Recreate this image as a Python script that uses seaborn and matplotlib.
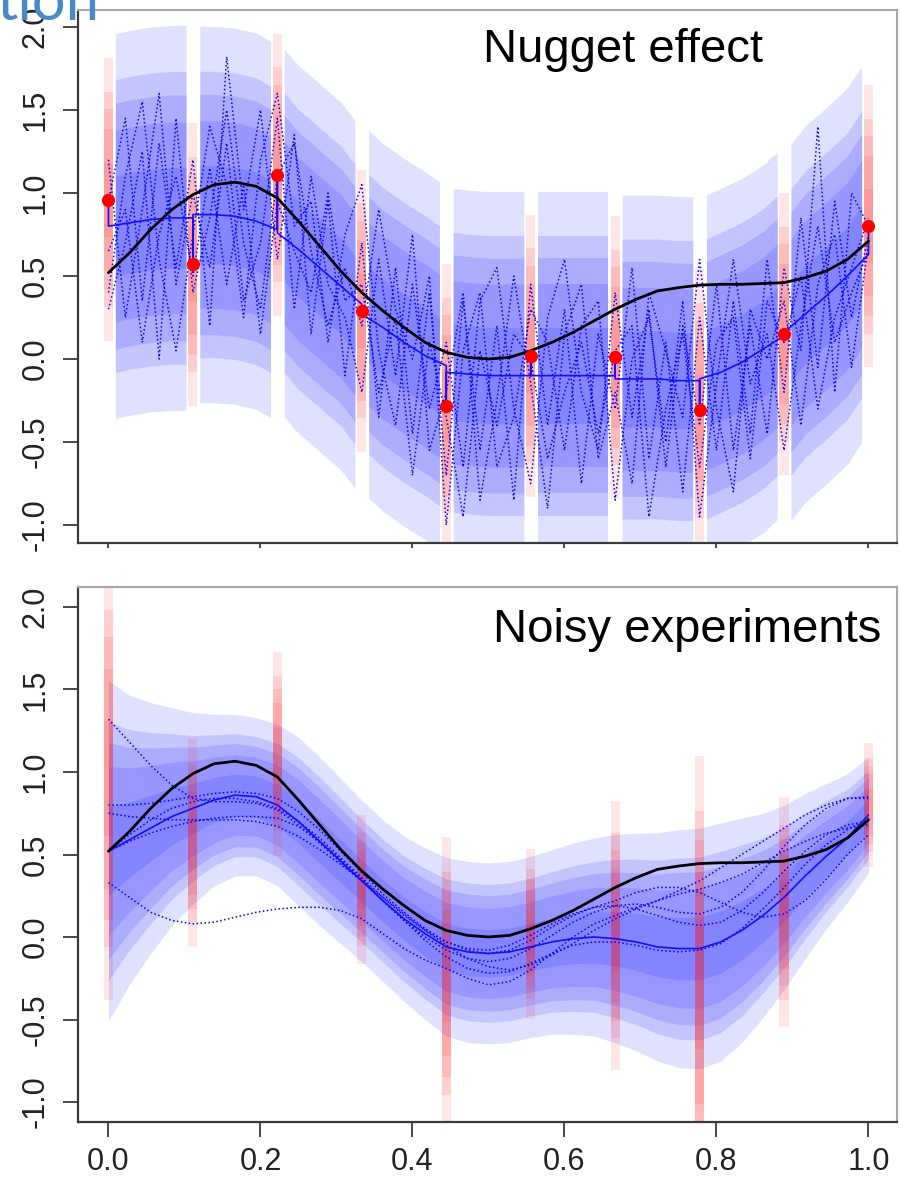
import numpy as np
import matplotlib
matplotlib.use("Agg")
import matplotlib.pyplot as plt
import seaborn as sns

# ---------------------------------------------------------------------------
# Data
# ---------------------------------------------------------------------------
# design of experiments and observed responses
x_design = [0.0, 1 / 9, 2 / 9, 3 / 9, 4 / 9, 5 / 9, 6 / 9, 7 / 9, 8 / 9, 1.0]
y_obs = [0.96, 0.57, 1.11, 0.29, -0.28, 0.02, 0.01, -0.31, 0.15, 0.80]

# prediction grid (4 steps between two design points) and simulation grid
x_grid = np.linspace(0.0, 1.0, 37)
x_sim = np.linspace(0.0, 1.0, 46)

# true function
truth = [0.52, 0.64, 0.78, 0.90, 0.99, 1.05, 1.065, 1.04, 0.97, 0.83,
         0.68, 0.53, 0.40, 0.29, 0.19, 0.10, 0.04, 0.01, 0.00, 0.01,
         0.05, 0.10, 0.16, 0.23, 0.30, 0.36, 0.41, 0.43, 0.445, 0.45,
         0.45, 0.455, 0.46, 0.49, 0.53, 0.60, 0.71]

# nugget model: kriging mean on each inter-design segment (5 grid nodes each)
nugget_mean = [
    [0.80, 0.82, 0.84, 0.85, 0.85],
    [0.87, 0.87, 0.86, 0.83, 0.78],
    [0.76, 0.66, 0.55, 0.44, 0.33],
    [0.27, 0.19, 0.10, 0.02, -0.04],
    [-0.08, -0.09, -0.10, -0.10, -0.10],
    [-0.10, -0.10, -0.10, -0.10, -0.10],
    [-0.12, -0.12, -0.12, -0.13, -0.13],
    [-0.12, -0.08, -0.02, 0.06, 0.14],
    [0.16, 0.27, 0.38, 0.50, 0.63],
]
nugget_sd = [0.45, 0.44, 0.43, 0.43, 0.43, 0.43, 0.43, 0.43, 0.44]
nugget_tau = 0.33

# nugget model: conditional simulations
nugget_sim_a = [0.95, 1.45, 0.35, 1.30, 0.55, 1.20, 0.20, 1.82, 0.90, 1.50,
                0.60, 1.35, 0.15, 0.95, -0.10, 0.70, -0.35, 0.55, -0.45, 0.40,
                -0.70, 0.35, -0.55, 0.20, -0.85, 0.45, -0.40, 0.30, -0.75, 0.15,
                -0.30, 0.55, -0.60, 0.10, -0.80, 0.25, -0.55, 0.35, -0.45, 0.60,
                -0.20, 0.85, -0.05, 0.95, 0.25, 0.75]
nugget_sim_b = [0.40, 1.10, 1.55, 0.60, 0.05, 0.75, 1.40, 1.05, 0.25, 1.20,
                1.60, 0.80, 0.95, 0.10, 0.75, 1.05, 0.05, -0.40, 0.45, -0.30,
                0.10, -0.65, 0.35, 0.55, -0.30, -0.75, 0.25, 0.60, -0.20, -0.55,
                0.40, -0.35, 0.30, -0.65, 0.20, -0.40, 0.45, -0.55, 0.20, -0.45,
                0.55, 0.05, 1.40, -0.20, 1.00, 0.80]
nugget_sim_c = [1.20, 0.25, 0.90, 1.60, 0.45, 1.00, 0.55, 1.30, 0.35, 0.70,
                1.45, 0.30, 1.10, 0.45, 0.25, -0.20, 0.60, -0.10, 0.75, -0.55,
                -0.20, 0.40, -0.85, -0.25, 0.50, -0.15, -0.90, 0.15, 0.45, -0.60,
                -0.20, -0.75, 0.40, 0.05, -0.35, 0.60, -0.30, -0.80, 0.30, 0.00,
                0.35, -0.40, 0.45, 0.75, -0.05, 0.70]
nugget_sim_d = [0.65, 0.90, 0.10, 0.75, 1.10, 0.50, 1.15, 0.45, 1.05, 0.15,
                0.95, 0.65, 0.40, 1.00, 0.35, 0.45, -0.20, 0.25, -0.70, 0.10,
                -0.35, -0.95, 0.05, -0.40, 0.15, 0.00, -0.60, -0.20, 0.10, -0.45,
                0.05, 0.20, -0.95, -0.30, 0.15, -0.65, 0.10, 0.25, -0.60, 0.35,
                0.10, 0.50, -0.30, 0.25, 0.55, 0.85]
nugget_sim_e = [0.30, 0.70, 1.25, 0.00, 1.45, 0.40, 0.85, 1.50, 0.70, 0.30,
                1.10, 1.30, 0.65, 0.20, 0.55, 0.20, 0.90, 0.30, 0.00, 0.50,
                -1.00, 0.05, 0.40, -0.65, -0.35, 0.30, 0.10, -0.55, 0.20, 0.35,
                -0.85, 0.00, 0.25, -0.50, 0.35, -0.95, -0.15, 0.60, -0.15, 0.15,
                -0.55, 0.20, 0.80, 0.10, 0.40, 0.65]

# noisy-experiment model: kriging mean and standard deviation on the grid
noisy_mean = [0.52, 0.59, 0.66, 0.73, 0.78, 0.83, 0.86, 0.85, 0.80, 0.70,
              0.58, 0.46, 0.34, 0.22, 0.11, 0.02, -0.06, -0.09, -0.10, -0.09,
              -0.06, -0.03, -0.01, 0.00, -0.01, -0.03, -0.06, -0.07, -0.07, -0.03,
              0.04, 0.13, 0.24, 0.37, 0.49, 0.60, 0.74]
noisy_sd = [0.40, 0.34, 0.295, 0.256, 0.225, 0.202, 0.19, 0.186, 0.19, 0.198,
            0.198, 0.194, 0.19, 0.19, 0.194, 0.202, 0.21, 0.213, 0.213, 0.213,
            0.213, 0.217, 0.225, 0.233, 0.245, 0.256, 0.268, 0.28, 0.283, 0.28,
            0.264, 0.24, 0.217, 0.194, 0.171, 0.151, 0.136]
# observation noise standard deviation at each design point
noise_sd = [0.52, 0.245, 0.24, 0.175, 0.345, 0.20, 0.316, 0.547, 0.27, 0.145]

# noisy-experiment model: conditional simulations
noisy_sim_1 = [1.32, 1.18, 1.04, 0.92, 0.84, 0.82, 0.82, 0.81, 0.77, 0.68,
               0.57, 0.45, 0.34, 0.22, 0.10, 0.00, -0.08, -0.13, -0.15, -0.13,
               -0.07, 0.01, 0.09, 0.15, 0.19, 0.20, 0.18, 0.15, 0.14, 0.18,
               0.27, 0.40, 0.55, 0.68, 0.78, 0.84, 0.85]
noisy_sim_2 = [0.33, 0.24, 0.15, 0.10, 0.08, 0.09, 0.12, 0.15, 0.17, 0.18,
               0.18, 0.16, 0.11, 0.02, -0.07, -0.14, -0.19, -0.25, -0.29, -0.27,
               -0.20, -0.10, 0.00, 0.08, 0.13, 0.18, 0.22, 0.26, 0.29, 0.33,
               0.38, 0.45, 0.52, 0.58, 0.63, 0.66, 0.68]
noisy_sim_3 = [0.80, 0.80, 0.81, 0.83, 0.85, 0.87, 0.88, 0.87, 0.84, 0.76,
               0.65, 0.52, 0.39, 0.26, 0.15, 0.05, -0.03, -0.08, -0.10, -0.08,
               -0.02, 0.06, 0.13, 0.18, 0.22, 0.27, 0.30, 0.30, 0.27, 0.21,
               0.15, 0.12, 0.14, 0.22, 0.35, 0.50, 0.62]
noisy_sim_4 = [0.75, 0.73, 0.72, 0.71, 0.71, 0.71, 0.71, 0.70, 0.67, 0.61,
               0.53, 0.44, 0.34, 0.24, 0.14, 0.04, -0.05, -0.13, -0.18, -0.20,
               -0.17, -0.11, -0.04, 0.04, 0.11, 0.17, 0.22, 0.28, 0.34, 0.42,
               0.50, 0.58, 0.66, 0.74, 0.80, 0.84, 0.84]
noisy_sim_5 = [0.52, 0.58, 0.63, 0.67, 0.70, 0.72, 0.73, 0.73, 0.72, 0.67,
               0.58, 0.47, 0.35, 0.22, 0.10, -0.02, -0.12, -0.19, -0.22, -0.21,
               -0.16, -0.10, -0.05, -0.03, -0.03, -0.05, -0.08, -0.09, -0.08, -0.04,
               0.05, 0.17, 0.30, 0.44, 0.56, 0.65, 0.72]
noisy_sim_6 = [0.52, 0.62, 0.71, 0.78, 0.82, 0.84, 0.84, 0.82, 0.78, 0.70,
               0.60, 0.48, 0.36, 0.24, 0.13, 0.04, -0.03, -0.07, -0.08, -0.05,
               0.01, 0.08, 0.14, 0.18, 0.19, 0.17, 0.13, 0.09, 0.07, 0.09,
               0.16, 0.27, 0.40, 0.52, 0.62, 0.68, 0.70]

x_ticks = [0.0, 0.2, 0.4, 0.6, 0.8, 1.0]
x_tick_labels = ["0.0", "0.2", "0.4", "0.6", "0.8", "1.0"]
y_ticks = [-1.0, -0.5, 0.0, 0.5, 1.0, 1.5, 2.0]
y_tick_labels = ["-1.0", "-0.5", "0.0", "0.5", "1.0", "1.5", "2.0"]

# Gaussian quantiles of the nested credibility bands (99%, 95%, 90%, 80%, 50%)
z_levels = [2.576, 1.960, 1.645, 1.282, 0.674]

# ---------------------------------------------------------------------------
# Figure
# ---------------------------------------------------------------------------
sns.set_theme(style="white")
plt.rcParams["font.family"] = ["Liberation Sans", "DejaVu Sans"]
plt.rcParams["axes.unicode_minus"] = False

W, H = 900, 1180
fig = plt.figure(figsize=(W / 100, H / 100), dpi=100)
fig.patch.set_facecolor("white")
ax1 = fig.add_axes([78 / W, 1 - 543 / H, 819 / W, 533 / H])
ax2 = fig.add_axes([78 / W, 1 - 1122 / H, 819 / W, 535 / H])

BAND_ALPHA = 0.12
BAR_ALPHA = 0.11
BAR_W = 0.012
DOT_LS = (0, (1.0, 1.6))


def red_bars(ax, sds):
    for xd, yo, s in zip(x_design, y_obs, sds):
        for z in z_levels:
            ax.bar(xd, 2 * z * s, bottom=yo - z * s, width=BAR_W,
                   color="#ff1a1a", alpha=BAR_ALPHA, linewidth=0, zorder=2)


def style_axes(ax, ylim, show_xlabels, xtick_len):
    ax.set_xlim(-0.0401, 1.0375)
    ax.set_ylim(*ylim)
    ax.set_facecolor("white")
    ax.grid(False)
    for side in ("left", "bottom"):
        ax.spines[side].set_color("#3a3a3a")
        ax.spines[side].set_linewidth(1.6)
    for side in ("top", "right"):
        ax.spines[side].set_color("#a8a8a8")
        ax.spines[side].set_linewidth(1.5)
    ax.set_xticks(x_ticks)
    ax.set_yticks(y_ticks)
    ax.set_yticklabels(y_tick_labels, rotation=90, va="center")
    if show_xlabels:
        ax.set_xticklabels(x_tick_labels)
    ax.tick_params(axis="y", left=True, direction="out", length=11, width=1.3,
                   color="#3a3a3a", pad=8.5, labelsize=22, labelcolor="#222222")
    ax.tick_params(axis="x", bottom=True, direction="out", length=xtick_len,
                   width=1.3, color="#3a3a3a", pad=7, labelsize=22,
                   labelcolor="#222222", labelbottom=show_xlabels)
    ax.set_xlabel("")
    ax.set_ylabel("")


# --- top panel: nugget effect ------------------------------------------------
gap = 0.009
for k in range(9):
    xs = [x_design[k] + gap, x_grid[4 * k + 1], x_grid[4 * k + 2],
          x_grid[4 * k + 3], x_design[k + 1] - gap]
    m = np.array(nugget_mean[k])
    s = nugget_sd[k]
    for z in z_levels:
        ax1.fill_between(xs, m - z * s, m + z * s, color="#0000ff",
                         alpha=BAND_ALPHA, linewidth=0, zorder=1)

red_bars(ax1, [nugget_tau] * len(x_design))

for path in (nugget_sim_a, nugget_sim_b, nugget_sim_c, nugget_sim_d, nugget_sim_e):
    sns.lineplot(x=x_sim, y=path, ax=ax1, color="#0000ff", linewidth=1.1,
                 linestyle=DOT_LS, sort=False, estimator=None, zorder=3)

# kriging mean with the jumps to the data at the design points
mean_x, mean_y = [], []
for k in range(10):
    if k > 0:
        mean_x.append(x_design[k])
        mean_y.append(nugget_mean[k - 1][-1])
    mean_x.append(x_design[k])
    mean_y.append(y_obs[k])
    if k < 9:
        mean_x += [x_design[k], x_grid[4 * k + 1], x_grid[4 * k + 2], x_grid[4 * k + 3]]
        mean_y += nugget_mean[k][:4]
sns.lineplot(x=mean_x, y=mean_y, ax=ax1, color="#1010ff", linewidth=1.2,
             sort=False, estimator=None, zorder=4)

sns.lineplot(x=x_grid, y=truth, ax=ax1, color="black", linewidth=2.0,
             sort=False, estimator=None, zorder=5)
sns.scatterplot(x=x_design, y=y_obs, ax=ax1, color="#ff0000", s=90,
                linewidth=0, zorder=6)

ax1.text(0.493, 1.79, "Nugget effect", fontsize=34, color="black",
         ha="left", va="baseline", zorder=7)
style_axes(ax1, (-1.108, 2.102), False, 3.5)

# --- bottom panel: noisy experiments -----------------------------------------
nm = np.array(noisy_mean)
ns = np.array(noisy_sd)
for z in z_levels:
    ax2.fill_between(x_grid, nm - z * ns, nm + z * ns, color="#0000ff",
                     alpha=BAND_ALPHA, linewidth=0, zorder=1)

red_bars(ax2, noise_sd)

for path in (noisy_sim_1, noisy_sim_2, noisy_sim_3, noisy_sim_4, noisy_sim_5, noisy_sim_6):
    sns.lineplot(x=x_grid, y=path, ax=ax2, color="#0000ff", linewidth=1.1,
                 linestyle=DOT_LS, sort=False, estimator=None, zorder=3)

sns.lineplot(x=x_grid, y=noisy_mean, ax=ax2, color="#1010ff", linewidth=1.2,
             sort=False, estimator=None, zorder=4)
sns.lineplot(x=x_grid, y=truth, ax=ax2, color="black", linewidth=2.0,
             sort=False, estimator=None, zorder=5)

ax2.text(0.506, 1.79, "Noisy experiments", fontsize=34, color="black",
         ha="left", va="baseline", zorder=7)
style_axes(ax2, (-1.121, 2.121), True, 11)

# slide heading running into the top of the figure
fig.text(100 / W, 1 - 20 / H, "tion", fontsize=43, color="#4a89c8",
         family=["Lato", "DejaVu Sans"], ha="right", va="baseline")

fig.savefig("out.png", dpi=100, facecolor="white")
